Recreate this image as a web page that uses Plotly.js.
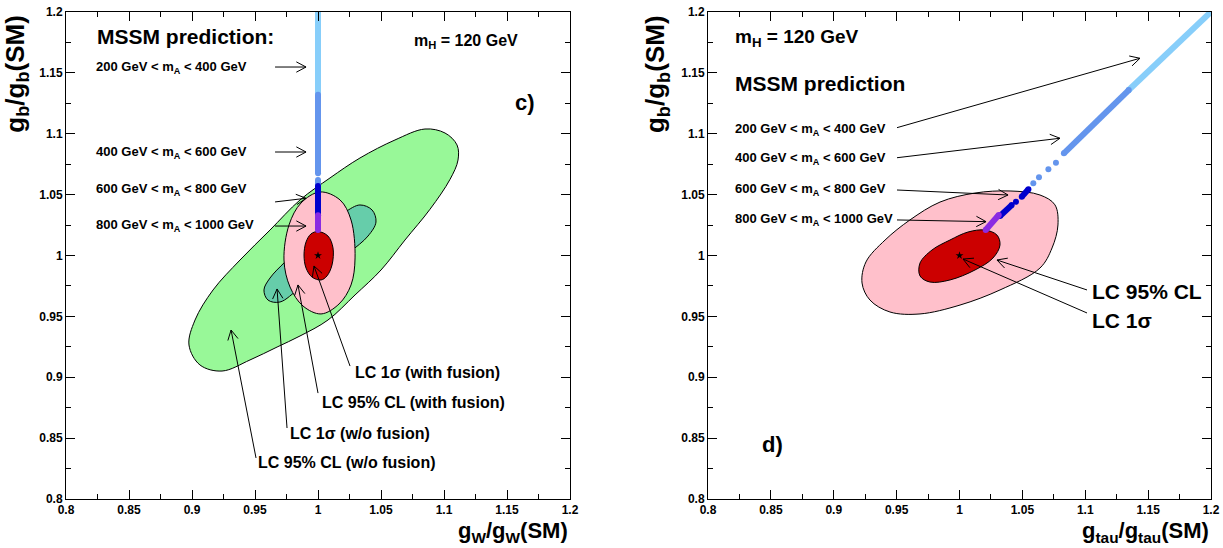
<!DOCTYPE html>
<html><head><meta charset="utf-8">
<script src="https://cdn.plot.ly/plotly-3.0.1.min.js"></script>
<style>html,body{margin:0;padding:0;background:#fff}</style>
</head><body><div id="chart" style="width:1223px;height:548px"></div>
<script>
// ---------- ticks ----------
const tickVals = [0.8,0.85,0.9,0.95,1,1.05,1.1,1.15,1.2];
const tickText = ["0.8","0.85","0.9","0.95","1","1.05","1.1","1.15","1.2"];
const minorTickVals = [0.825,0.875,0.925,0.975,1.025,1.075,1.125,1.175];

// ---------- panel c) : g_b vs g_W ----------
// LC 95% CL (w/o fusion)
const c95woX = [1.0849,1.1008,1.1103,1.1111,1.1048,1.0889,1.0690,1.0500,1.0294,1.0079,0.9857,0.9675,0.9460,0.9238,0.9063,0.8976,0.9024,0.9167,0.9381,0.9619,0.9857,1.0095,1.0333,1.0611];
const c95woY = [1.1039,1.1006,1.0908,1.0784,1.0626,1.0380,1.0127,0.9881,0.9676,0.9470,0.9339,0.9248,0.9142,0.9051,0.9101,0.9265,0.9470,0.9717,0.9963,1.0209,1.0456,1.0637,1.0801,1.0949];
// LC 1 sigma (w/o fusion)
const c1swoX = [1.0333,1.0429,1.0460,1.0397,1.0254,1.0095,0.9857,0.9698,0.9603,0.9571,0.9619,0.9738,0.9897,1.0056,1.0214];
const c1swoY = [1.0415,1.0374,1.0275,1.0160,1.0029,0.9897,0.9733,0.9618,0.9634,0.9717,0.9815,0.9947,1.0103,1.0242,1.0357];
// LC 95% CL (with fusion)
const c95wX = [1.0016,1.0175,1.0262,1.0294,1.0262,1.0167,1.0024,0.9881,0.9778,0.9730,0.9770,0.9865];
const c95wY = [1.0522,1.0456,1.0292,0.9980,0.9758,0.9602,0.9520,0.9585,0.9741,0.9963,1.0251,1.0431];
// LC 1 sigma (with fusion)
const c1swX = [1.0000,1.0079,1.0119,1.0111,1.0071,1.0024,0.9952,0.9905,0.9889,0.9905,0.9944];
const c1swY = [1.0197,1.0160,1.0062,0.9922,0.9832,0.9799,0.9823,0.9897,1.0004,1.0111,1.0177];
// MSSM prediction bands (m_A ranges)
const cM200X = [1,1],               cM200Y = [1.132,1.21];
const cM400X = [1,1,null,1,1],      cM400Y = [1.057,1.062,null,1.0675,1.132];
const cM600X = [1,1],               cM600Y = [1.033,1.057];
const cM800X = [1,1],               cM800Y = [1.021,1.033];

// ---------- panel d) : g_b vs g_tau ----------
const d95X = [1.0402,1.0640,1.0759,1.0783,1.0736,1.0640,1.0322,1.0004,0.9686,0.9447,0.9288,0.9225,0.9256,0.9408,0.9606,0.9845,1.0123];
const d95Y = [1.0530,1.0497,1.0416,1.0251,1.0062,0.9897,0.9717,0.9593,0.9520,0.9536,0.9634,0.9774,0.9947,1.0127,1.0292,1.0439,1.0513];
const d1sX = [1.0203,1.0298,1.0322,1.0266,1.0123,0.9924,0.9765,0.9686,0.9686,0.9781,0.9924,1.0068];
const d1sY = [1.0209,1.0168,1.0086,0.9979,0.9881,0.9799,0.9782,0.9832,0.9938,1.0045,1.0127,1.0193];
const dM200X = [1.1346,1.21], dM200Y = [1.1359,1.21];
const dM400X = [1.0587,null,1.0632,null,1.0707,null,1.0767,null,1.0830,1.1346];
const dM400Y = [1.0593,null,1.0642,null,1.0708,null,1.0762,null,1.0839,1.1359];
const dM600X = [1.0322,1.0415,null,1.0449,null,1.0495,1.0548];
const dM600Y = [1.0324,1.0414,null,1.0442,null,1.0483,1.0544];
const dM800X = [1.0208,1.0312], dM800Y = [1.0209,1.0333];

const smX = [1], smY = [1];

// ---------- styling ----------
const F = "Liberation Sans, Arial, Helvetica, sans-serif";
const COL = {green:'#98f898', teal:'#66cdaa', pink:'#ffc0cb', red:'#cc0000',
  m200:'#87cefa', m400:'#6495ed', m600:'#0000cd', m800:'#8a2be2'};

function contour(xs, ys, color, xa, ya){
  return {type:'scatter', mode:'lines', x:xs.concat([xs[0]]), y:ys.concat([ys[0]]),
    fill:'toself', fillcolor:color, line:{color:'black', width:1, shape:'spline', smoothing:1},
    xaxis:xa, yaxis:ya, hoverinfo:'skip', showlegend:false};
}
function band(xs, ys, color, xa, ya){
  return {type:'scatter', mode:'lines+markers', x:xs, y:ys, connectgaps:false,
    line:{color:color, width:6}, marker:{color:color, size:6},
    xaxis:xa, yaxis:ya, hoverinfo:'skip', showlegend:false, cliponaxis:true};
}
function star(xa, ya){
  return {type:'scatter', mode:'markers', x:smX, y:smY, marker:{symbol:'star', size:6, color:'black'},
    xaxis:xa, yaxis:ya, hoverinfo:'skip', showlegend:false};
}

const data = [
  contour(c95woX, c95woY, COL.green, 'x', 'y'),
  contour(c1swoX, c1swoY, COL.teal, 'x', 'y'),
  contour(c95wX, c95wY, COL.pink, 'x', 'y'),
  contour(c1swX, c1swY, COL.red, 'x', 'y'),
  band(cM200X, cM200Y, COL.m200, 'x', 'y'),
  band(cM400X, cM400Y, COL.m400, 'x', 'y'),
  band(cM600X, cM600Y, COL.m600, 'x', 'y'),
  band(cM800X, cM800Y, COL.m800, 'x', 'y'),
  star('x','y'),
  contour(d95X, d95Y, COL.pink, 'x2', 'y2'),
  contour(d1sX, d1sY, COL.red, 'x2', 'y2'),
  band(dM200X, dM200Y, COL.m200, 'x2', 'y2'),
  band(dM400X, dM400Y, COL.m400, 'x2', 'y2'),
  band(dM600X, dM600Y, COL.m600, 'x2', 'y2'),
  band(dM800X, dM800Y, COL.m800, 'x2', 'y2'),
  star('x2','y2')
];

// ---------- annotations ----------
function txt(x, y, text, size, xr, yr, extra){
  return Object.assign({x:x, y:y, xref:xr, yref:yr, text:text, showarrow:false,
    xanchor:'left', yanchor:'middle', font:{family:F, size:size, color:'black', weight:'bold'}}, extra||{});
}
const KX = {x:1260, x2:1257.5}, KY = 1217.5;
function arrow(tx, ty, hx, hy, xr, yr, head){
  const kx = KX[xr];
  let dx = (hx-tx)*kx, dy = (hy-ty)*KY;
  const L = Math.hypot(dx, dy); dx/=L; dy/=L;
  let p = 'M '+tx+' '+ty+' L '+hx+' '+hy;
  if(head!==false){
    const len = 11, a = 28*Math.PI/180;
    const legs = [a,-a].map(t=>{
      const rx = -(dx*Math.cos(t) - dy*Math.sin(t)), ry = -(dx*Math.sin(t) + dy*Math.cos(t));
      return [hx + rx*len/kx, hy + ry*len/KY];
    });
    p += ' M '+legs[0][0]+' '+legs[0][1]+' L '+hx+' '+hy+' L '+legs[1][0]+' '+legs[1][1];
  }
  return {type:'path', xref:xr, yref:yr, path:p, line:{color:'black', width:1}, layer:'above'};
}

const annotations = [
  // panel c
  txt(0.823, 1.1795, 'MSSM prediction:', 21, 'x', 'y'),
  txt(1.0746, 1.176, 'm<sub>H</sub> = 120 GeV', 16, 'x', 'y'),
  txt(1.1548, 1.1253, 'c)', 22, 'x', 'y'),
  txt(0.8222, 1.1548, '200 GeV &lt; m<sub>A</sub> &lt; 400 GeV', 13, 'x', 'y'),
  txt(0.8222, 1.0845, '400 GeV &lt; m<sub>A</sub> &lt; 600 GeV', 13, 'x', 'y'),
  txt(0.8222, 1.0540, '600 GeV &lt; m<sub>A</sub> &lt; 800 GeV', 13, 'x', 'y'),
  txt(0.8222, 1.0245, '800 GeV &lt; m<sub>A</sub> &lt; 1000 GeV', 13, 'x', 'y'),
  txt(1.0278, 0.9035, 'LC 1σ (with fusion)', 16, 'x', 'y'),
  txt(1.0016, 0.8789, 'LC 95% CL (with fusion)', 16, 'x', 'y'),
  txt(0.9762, 0.8542, 'LC 1σ (w/o fusion)', 16, 'x', 'y'),
  txt(0.9508, 0.8296, 'LC 95% CL (w/o fusion)', 16, 'x', 'y'),
  // panel d
  txt(0.8199, 1.1790, 'm<sub>H</sub> = 120 GeV', 19, 'x2', 'y2'),
  txt(0.8199, 1.1409, 'MSSM prediction', 21, 'x2', 'y2'),
  txt(0.8199, 1.1039, '200 GeV &lt; m<sub>A</sub> &lt; 400 GeV', 13, 'x2', 'y2'),
  txt(0.8199, 1.0793, '400 GeV &lt; m<sub>A</sub> &lt; 600 GeV', 13, 'x2', 'y2'),
  txt(0.8199, 1.0546, '600 GeV &lt; m<sub>A</sub> &lt; 800 GeV', 13, 'x2', 'y2'),
  txt(0.8199, 1.0292, '800 GeV &lt; m<sub>A</sub> &lt; 1000 GeV', 13, 'x2', 'y2'),
  txt(1.1038, 0.9708, 'LC 95% CL', 21, 'x2', 'y2'),
  txt(1.1038, 0.9470, 'LC 1σ', 21, 'x2', 'y2'),
  txt(0.8414, 0.8444, 'd)', 22, 'x2', 'y2'),
  // axis titles
  txt(-0.043, 0.998, 'g<sub>b</sub>/g<sub>b</sub>(SM)', 26, 'paper', 'paper', {textangle:-90, xanchor:'center', yanchor:'top'}),
  txt(0.5162, 0.998, 'g<sub>b</sub>/g<sub>b</sub>(SM)', 26, 'paper', 'paper', {textangle:-90, xanchor:'center', yanchor:'top'}),
  txt(0.4402, -0.1, 'g<sub>W</sub>/g<sub>W</sub>(SM)', 22, 'paper', 'paper', {xanchor:'right', yanchor:'bottom'}),
  txt(1.0, -0.1, 'g<sub>tau</sub>/g<sub>tau</sub>(SM)', 22, 'paper', 'paper', {xanchor:'right', yanchor:'bottom'})
];

const shapes = [
  arrow(0.9659, 1.1548, 0.9905, 1.1548, 'x', 'y'),
  arrow(0.9659, 1.0850, 0.9905, 1.0850, 'x', 'y'),
  arrow(0.9659, 1.0440, 0.9905, 1.0470, 'x', 'y'),
  arrow(0.9659, 1.0242, 0.9905, 1.0242, 'x', 'y'),
  arrow(1.0254, 0.9092, 0.9968, 0.9914, 'x', 'y'),
  arrow(1.0000, 0.8870, 0.9841, 0.9758, 'x', 'y'),
  arrow(0.9754, 0.8583, 0.9675, 0.9725, 'x', 'y'),
  arrow(0.9508, 0.8337, 0.9310, 0.9388, 'x', 'y'),
  arrow(0.9503, 1.1050, 1.1435, 1.1620, 'x2', 'y2'),
  arrow(0.9503, 1.0803, 1.0799, 1.0963, 'x2', 'y2'),
  arrow(0.9503, 1.0538, 1.0386, 1.0497, 'x2', 'y2'),
  arrow(0.9503, 1.0292, 1.0211, 1.0278, 'x2', 'y2'),
  arrow(1.1014, 0.9717, 1.0298, 0.9963, 'x2', 'y2'),
  arrow(1.1014, 0.9528, 1.0028, 0.9971, 'x2', 'y2')
];

function axis(dom, anchor){
  return {domain:dom, anchor:anchor, range:[0.8,1.2], tickmode:'array', tickvals:tickVals, ticktext:tickText,
    ticks:'inside', ticklen:9, tickwidth:1, tickcolor:'black', showline:true, linecolor:'black', linewidth:1,
    mirror:'ticks', showgrid:false, zeroline:false, fixedrange:true,
    tickfont:{family:F, size:12, color:'black', weight:'bold'},
    minor:{tickmode:'array', tickvals:minorTickVals, ticks:'inside', ticklen:5, tickwidth:1, tickcolor:'black', showgrid:false}};
}

const layout = {
  width:1223, height:548, margin:{l:66, r:12, t:12, b:49, pad:0},
  paper_bgcolor:'white', plot_bgcolor:'white', showlegend:false,
  xaxis: axis([0, 0.4402], 'y'),
  yaxis: axis([0, 1], 'x'),
  xaxis2: axis([0.5607, 1], 'y2'),
  yaxis2: axis([0, 1], 'x2'),
  annotations: annotations,
  shapes: shapes
};

Plotly.newPlot('chart', data, layout, {staticPlot:true, displayModeBar:false});
</script>
</body></html>
